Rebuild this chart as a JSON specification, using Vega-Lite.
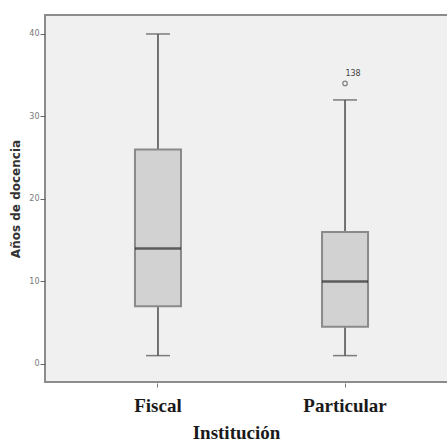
{
  "$schema": "https://vega.github.io/schema/vega-lite/v6.json",
  "autosize": "none",
  "width": 413,
  "height": 367,
  "padding": {"left": 45, "top": 15, "right": 0, "bottom": 65},
  "background": "white",
  "config": {
    "view": {"fill": "#f0f0f0", "stroke": "#8c8c8c", "strokeWidth": 2}
  },
  "datasets": {
    "boxes": [
      {"institucion": "Fiscal", "lower": 1, "q1": 7, "median": 14, "q3": 26, "upper": 40},
      {"institucion": "Particular", "lower": 1, "q1": 4.5, "median": 10, "q3": 16, "upper": 32}
    ],
    "outliers": [
      {"institucion": "Particular", "value": 34, "label": "138"}
    ]
  },
  "encoding": {
    "x": {
      "field": "institucion",
      "type": "nominal",
      "sort": ["Fiscal", "Particular"],
      "scale": {"paddingInner": 0.5, "paddingOuter": 0.354},
      "axis": {
        "title": "Institución",
        "titleFont": "Liberation Serif",
        "titleFontSize": 19,
        "titleFontWeight": "bold",
        "titleColor": "#1a1a1a",
        "titlePadding": 8,
        "titleX": 191,
        "titleAlign": "center",
        "labelFont": "Liberation Serif",
        "labelFontSize": 19,
        "labelFontWeight": "bold",
        "labelColor": "#1a1a1a",
        "labelAngle": 0,
        "labelPadding": 9,
        "domain": false,
        "ticks": true,
        "tickSize": 4,
        "tickColor": "#777",
        "offset": 1
      }
    }
  },
  "layer": [
    {
      "data": {"name": "boxes"},
      "mark": {"type": "rule", "color": "#4a4a4a", "strokeWidth": 1.5},
      "encoding": {
        "y": {
          "field": "lower",
          "type": "quantitative",
          "scale": {"domain": [-2.2, 42.3], "nice": false, "zero": false},
          "axis": {
            "title": "Años de docencia",
            "titleFont": "DejaVu Sans",
            "titleFontSize": 12,
            "titleFontWeight": "bold",
            "titleColor": "#333",
            "titlePadding": 6,
            "values": [0, 10, 20, 30, 40],
            "labelFont": "DejaVu Sans",
            "labelFontSize": 8,
            "labelColor": "#777",
            "labelPadding": 1,
            "tickSize": 5,
            "tickColor": "#666",
            "domain": false,
            "grid": false
          }
        },
        "y2": {"field": "upper"}
      }
    },
    {
      "data": {"name": "boxes"},
      "mark": {"type": "tick", "color": "#4a4a4a", "thickness": 1.5, "size": 24},
      "encoding": {"y": {"field": "lower", "type": "quantitative"}}
    },
    {
      "data": {"name": "boxes"},
      "mark": {"type": "tick", "color": "#4a4a4a", "thickness": 1.5, "size": 24},
      "encoding": {"y": {"field": "upper", "type": "quantitative"}}
    },
    {
      "data": {"name": "boxes"},
      "mark": {"type": "bar", "fill": "#d2d2d2", "stroke": "#8a8a8a", "strokeWidth": 2, "size": 46},
      "encoding": {
        "y": {"field": "q1", "type": "quantitative"},
        "y2": {"field": "q3"}
      }
    },
    {
      "data": {"name": "boxes"},
      "mark": {"type": "tick", "color": "#2a2a2a", "thickness": 2.5, "size": 46},
      "encoding": {"y": {"field": "median", "type": "quantitative"}}
    },
    {
      "data": {"name": "outliers"},
      "mark": {"type": "point", "shape": "circle", "filled": false, "size": 20, "color": "#555555", "strokeWidth": 1.2},
      "encoding": {"y": {"field": "value", "type": "quantitative"}}
    },
    {
      "data": {"name": "outliers"},
      "mark": {"type": "text", "font": "DejaVu Sans", "fontSize": 8, "color": "#444", "dx": 8, "dy": -9, "align": "center"},
      "encoding": {
        "y": {"field": "value", "type": "quantitative"},
        "text": {"field": "label"}
      }
    }
  ]
}
